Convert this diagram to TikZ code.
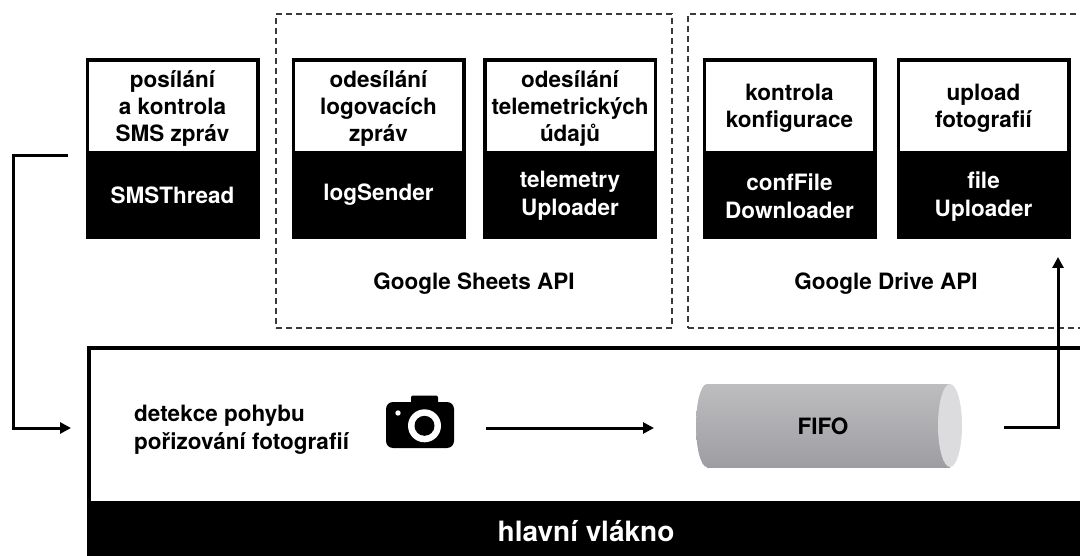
\documentclass[tikz,border=0pt]{standalone}
\usepackage{fontspec}
\setmainfont{TeX Gyre Heros}
\usetikzlibrary{arrows.meta}
\definecolor{dashgray}{HTML}{3A3A3A}
\definecolor{cyltop}{HTML}{BDBDC0}
\definecolor{cylmid}{HTML}{CFCFD2}
\definecolor{cylbot}{HTML}{9E9EA2}
\definecolor{capc}{HTML}{DCDCDE}
\begin{document}
\begin{tikzpicture}[x=1pt,y=-1pt,
  txt/.style={font=\bfseries\fontsize{22.5}{27}\selectfont, align=center, inner sep=0pt},
  tbox/.style={txt, draw=black, line width=3.5pt, fill=white, minimum width=170.5pt, minimum height=93.25pt},
  bbox/.style={txt, draw=black, fill=black, text=white, line width=3.5pt, minimum width=170.5pt, minimum height=84.25pt},
  grp/.style={draw=dashgray, line width=1.1pt, dash pattern=on 6pt off 4pt, inner sep=0pt},
  conn/.style={line width=3pt, -{Triangle[length=11pt,width=11pt]}},
]
\useasboundingbox (0,0) rectangle (1080,556);
\clip (0,0) rectangle (1080,556);

% dashed API groups
\node[grp, minimum width=396pt, minimum height=314pt] (sheets) at (474,171) {};
\node[grp, minimum width=412pt, minimum height=314pt] (drive) at (894,171) {};
\node[txt] (sheetslbl) at (474,284) {Google Sheets API};
\node[txt] (drivelbl) at (886,284) {Google Drive API};

% thread boxes
\node[tbox] (smsT) at (172.5,106.4) {};
\node[bbox] (smsB) at (172.5,195.1) {};
\node[tbox] (logT) at (378.5,106.4) {};
\node[bbox] (logB) at (378.5,195.1) {};
\node[tbox] (telT) at (570,106.4) {};
\node[bbox] (telB) at (570,195.1) {};
\node[tbox] (cfgT) at (789.5,106.4) {};
\node[bbox] (cfgB) at (789.5,195.1) {};
\node[tbox] (upT) at (983.5,106.4) {};
\node[bbox] (upB) at (983.5,195.1) {};

\node[txt] (smsTt) at ([yshift=-2pt]smsT.center) {posílání\\a kontrola\\SMS zpráv};
\node[txt, text=white] (smsBt) at (smsB.center) {SMSThread};
\node[txt] (logTt) at ([yshift=-2pt]logT.center) {odesílání\\logovacích\\zpráv};
\node[txt, text=white] (logBt) at (logB.center) {logSender};
\node[txt] (telTt) at ([yshift=-2pt]telT.center) {odesílání\\telemetrických\\údajů};
\node[txt, text=white, font=\bfseries\fontsize{22.5}{28}\selectfont] (telBt) at ([yshift=-1pt]telB.center) {telemetry\\Uploader};
\node[txt] (cfgTt) at ([yshift=-2pt]cfgT.center) {kontrola\\konfigurace};
\node[txt, text=white, font=\bfseries\fontsize{22.5}{28}\selectfont] (cfgBt) at ([yshift=-1pt]cfgB.center) {confFile\\Downloader};
\node[txt] (upTt) at ([yshift=-2pt]upT.center) {upload\\fotografií};
\node[txt, text=white, font=\bfseries\fontsize{22.5}{28}\selectfont] (upBt) at ([yshift=-1pt]upB.center) {file\\Uploader};

% main thread box
\node[draw=black, line width=4pt, minimum width=1011pt, minimum height=271.5pt, inner sep=0pt] (main) at (594.5,484.25) {};
\node[fill=black, minimum width=1015pt, minimum height=60pt, inner sep=0pt] (bar) at (594.5,531) {};
\node[txt, text=white, font=\bfseries\fontsize{28}{32}\selectfont] (title) at (586,531) {hlavní vlákno};

\node[txt, align=left, anchor=west, font=\bfseries\fontsize{22.5}{28}\selectfont] (detect) at (134,430) {detekce pohybu\\pořizování fotografií};

% camera icon
\node[minimum width=68pt, minimum height=52pt, inner sep=0pt] (cam) at (420,422) {};
\fill[black, rounded corners=2pt] (411,395.5) rectangle (438,406);
\fill[black, rounded corners=7pt] (386,402) rectangle (454,448);
\fill[white] (424.5,425.8) circle (16.5pt);
\fill[black] (424.5,425.8) circle (10pt);
\fill[white] (398,413) circle (2.7pt);

% FIFO cylinder
\shade[top color=cyltop, middle color=cylmid, bottom color=cylbot] (707,425.5) ellipse [x radius=11pt, y radius=41.5pt];
\shade[top color=cyltop, middle color=cylmid, bottom color=cylbot] (707,384) rectangle (950,467);
\fill[capc] (950,425.5) ellipse [x radius=12pt, y radius=41.5pt];
\node[minimum width=266pt, minimum height=83pt, inner sep=0pt] (fifo) at (829,425.5) {};
\node[txt] (fifolbl) at (823,426) {FIFO};

% connectors
\coordinate (smsOut) at (68,155.5);
\coordinate (lTop) at (13,155.5);
\coordinate (lBot) at (13,428);
\coordinate (mainIn) at (71,428);
\draw[conn] (smsOut) -- (lTop) -- (lBot) -- (mainIn);

\coordinate (camOut) at (486,428);
\coordinate (fifoIn) at (654,428);
\draw[conn] (camOut) -- (fifoIn);

\coordinate (fifoOut) at (1004,427);
\coordinate (rCorner) at (1058,427);
\coordinate (upIn) at (1058,257);
\draw[conn] (fifoOut) -- (rCorner) -- (upIn);
\end{tikzpicture}
\end{document}
